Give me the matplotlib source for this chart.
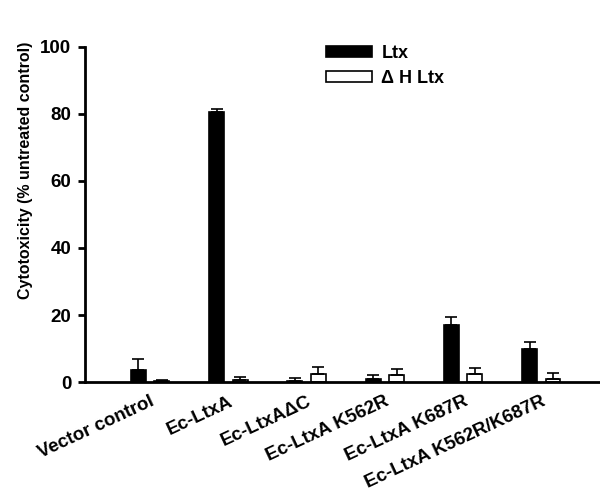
import numpy as np
import matplotlib
matplotlib.use("Agg")
import matplotlib.pyplot as plt

plt.rcParams['font.family'] = ['Liberation Sans', 'DejaVu Sans']
plt.rcParams['font.weight'] = 'bold'

groups = ["Vector control", "Ec-LtxA", "Ec-LtxA\u0394C", "Ec-LtxA K562R",
          "Ec-LtxA K687R", "Ec-LtxA K562R/K687R"]
ltx = [3.7, 80.5, 0.4, 1.0, 17.0, 10.0]
ltx_err = [3.3, 0.9, 0.8, 1.2, 2.5, 2.0]
dh_ltx = [0.4, 0.7, 2.5, 2.2, 2.4, 1.0]
dh_err = [0.3, 0.8, 2.0, 1.8, 1.8, 1.7]

x = np.arange(len(groups))
w = 0.19
off = 0.15

fig = plt.figure(figsize=(6, 4.93), dpi=100)
ax = fig.add_axes([0.142, 0.225, 0.858, 0.68])

ebar = dict(elinewidth=1.2, capthick=1.2, ecolor='black')
ax.bar(x - off, ltx, w, color='black', edgecolor='black', linewidth=1.2,
       yerr=[np.zeros(len(ltx)), ltx_err], capsize=4.3, error_kw=ebar,
       label='Ltx', zorder=2)
ax.bar(x + off, dh_ltx, w, color='white', edgecolor='black', linewidth=1.2,
       yerr=[np.zeros(len(dh_ltx)), dh_err], capsize=4.3, error_kw=ebar,
       label='\u0394 H Ltx', zorder=2)

ax.set_xlim(-0.83, 5.75)
ax.set_ylim(0, 100)
ax.set_yticks([0, 20, 40, 60, 80, 100])
ax.set_ylabel('Cytotoxicity (% untreated control)', fontsize=11.5,
              fontweight='bold')
ax.yaxis.set_label_coords(-0.101, 0.633)

ax.set_xticks(x)
ax.set_xticklabels(groups, rotation=25, ha='right', rotation_mode='anchor',
                   fontsize=13.5, fontweight='bold')
ax.tick_params(axis='x', length=0, pad=8)
ax.tick_params(axis='y', direction='out', length=5, width=2, labelsize=13.5,
               pad=5)
for t in ax.get_yticklabels():
    t.set_fontweight('bold')

for s in ['top', 'right']:
    ax.spines[s].set_visible(False)
for s in ['left', 'bottom']:
    ax.spines[s].set_linewidth(2)

ax.legend(loc='upper left', bbox_to_anchor=(0.437, 1.055), frameon=False,
          handlelength=2.55, handleheight=0.55, handletextpad=0.5,
          labelspacing=0.45, prop=dict(weight='bold', size=13))

fig.savefig('out.png', dpi=100)
